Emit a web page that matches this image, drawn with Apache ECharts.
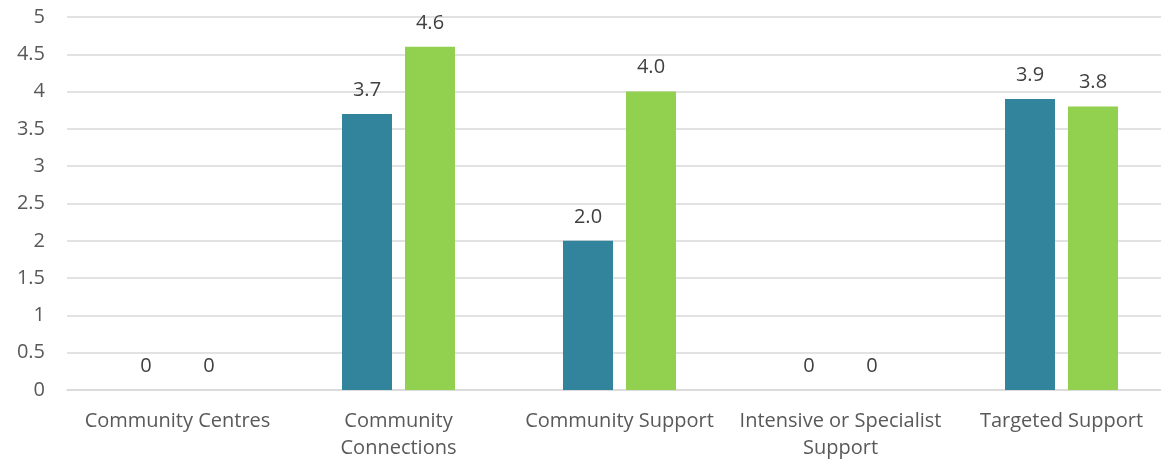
<!DOCTYPE html>
<html>
<head>
<meta charset="utf-8">
<script src="https://cdn.jsdelivr.net/npm/echarts@6/dist/echarts.min.js"></script>
<style>
  html, body { margin: 0; padding: 0; background: #fff; }
  #chart { width: 1161px; height: 462px; }
</style>
</head>
<body>
<div id="chart"></div>
<script>
// Service categories along the x axis
const categories = [
  'Community Centres',
  'Community\nConnections',
  'Community Support',
  'Intensive or Specialist\nSupport',
  'Targeted Support'
];
// Two series of scores per category
const seriesA = [0, 3.7, 2.0, 0, 3.9];
const seriesB = [0, 4.6, 4.0, 0, 3.8];
// Value axis ticks
const yMin = 0;
const yMax = 5;
const yStep = 0.5;

const FONT = 'Open Sans, Liberation Sans, sans-serif';
const TEXT = '#595959';

const chart = echarts.init(document.getElementById('chart'));

function labelFmt(p) {
  return p.value === 0 ? '0' : p.value.toFixed(1);
}

const barLabel = {
  show: true,
  position: 'top',
  distance: 14,
  color: '#404040',
  fontFamily: FONT,
  fontSize: 20,
  formatter: labelFmt
};

chart.setOption({
  animation: false,
  grid: { left: 67, width: 1105, top: 17, bottom: 72, outerBoundsMode: 'none' },
  xAxis: {
    type: 'category',
    data: categories,
    axisLine: { lineStyle: { color: '#D9D9D9', width: 1.5 } },
    axisTick: { show: false },
    axisLabel: {
      color: TEXT,
      fontFamily: FONT,
      fontSize: 20,
      lineHeight: 27,
      margin: 18,
      interval: 0
    }
  },
  yAxis: {
    type: 'value',
    min: yMin,
    max: yMax,
    interval: yStep,
    axisLine: { show: false },
    axisTick: { show: false },
    splitLine: { lineStyle: { color: '#D9D9D9', width: 1.5 } },
    axisLabel: {
      color: TEXT,
      fontFamily: FONT,
      fontSize: 20,
      margin: 22
    }
  },
  series: [
    {
      type: 'bar',
      data: seriesA,
      barWidth: 50,
      barGap: '26%',
      itemStyle: { color: '#31849B' },
      label: barLabel
    },
    {
      type: 'bar',
      data: seriesB,
      barWidth: 50,
      itemStyle: { color: '#92D050' },
      label: barLabel
    }
  ]
});
</script>
</body>
</html>
